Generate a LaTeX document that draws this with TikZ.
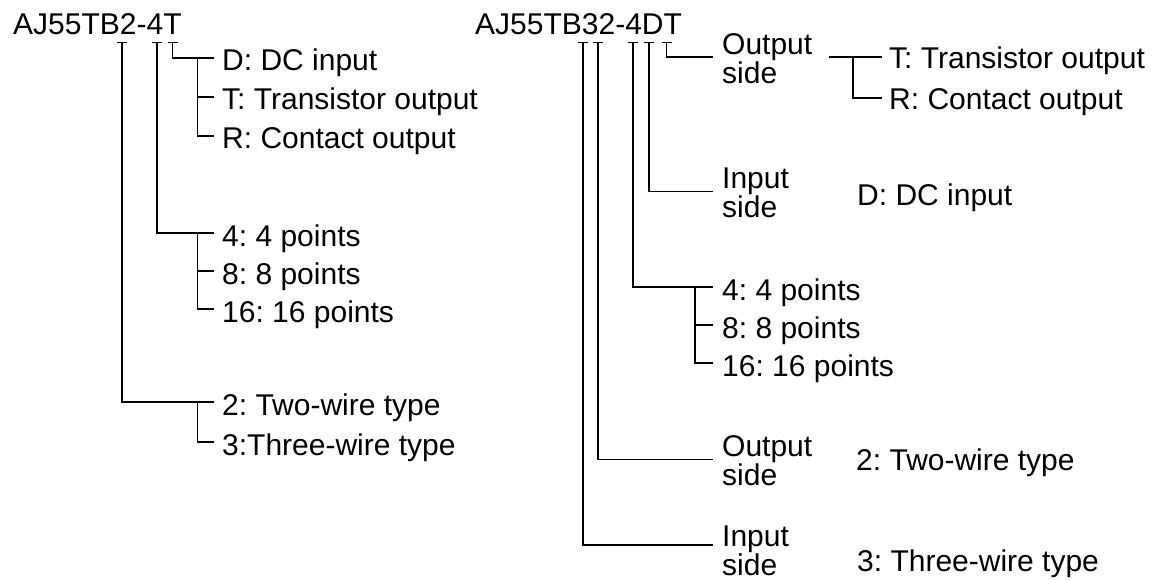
\documentclass[tikz,border=0pt]{standalone}
\usepackage{fontspec}
\setmainfont{Liberation Sans}
\frenchspacing
\begin{document}
\begin{tikzpicture}[x=1pt,y=-1pt,
  lbl/.style={inner sep=0pt, anchor=base west, font=\fontsize{30}{30}\selectfont\frenchspacing},
  two/.style={inner sep=0pt, anchor=west, align=left, font=\fontsize{30}{24}\selectfont},
  ln/.style={line width=1.1pt, black},
  tick/.style={line width=1.1pt, black}]
\useasboundingbox (0,0) rectangle (1156,580);
% ---------------- left code ----------------
\node[lbl] (tl) at (13,35) {AJ55TB2-4T};
\coordinate (a1) at (122,42.5);
\coordinate (a2) at (157,42.5);
\coordinate (a3) at (172.5,42.5);
\foreach \c in {a1,a2,a3} \draw[tick] ([xshift=-5pt]\c) -- ([xshift=5pt]\c);

\node[lbl] (lD) at (222,71)  {D: DC input};
\node[lbl] (lT) at (222,110) {T: Transistor output};
\node[lbl] (lR) at (222,149) {R: Contact output};
\coordinate (sD) at (214,58);
\coordinate (sT) at (214,97);
\coordinate (sR) at (214,136);
\coordinate (jA) at (197.5,58);
\draw[ln] (a3) |- (sD);
\draw[ln] (jA) |- (sR);
\draw[ln] (jA |- sT) -- (sT);

\node[lbl] (l4)  at (222,246) {4: 4 points};
\node[lbl] (l8)  at (222,284) {8: 8 points};
\node[lbl] (l16) at (222,322) {16: 16 points};
\coordinate (s4) at (214,233);
\coordinate (s8) at (214,271);
\coordinate (s16) at (214,309);
\coordinate (jB) at (197.5,233);
\draw[ln] (a2) |- (s4);
\draw[ln] (jB) |- (s16);
\draw[ln] (jB |- s8) -- (s8);

\node[lbl] (l2) at (222,415) {2: Two-wire type};
\node[lbl] (l3) at (222,455) {3:Three-wire type};
\coordinate (s2) at (214,402);
\coordinate (s3) at (214,442);
\coordinate (jC) at (197.5,402);
\draw[ln] (a1) |- (s2);
\draw[ln] (jC) |- (s3);

% ---------------- right code ----------------
\node[lbl] (tr) at (475,35) {AJ55TB32-4DT};
\coordinate (b1) at (583,42.5);
\coordinate (b2) at (598,42.5);
\coordinate (b3) at (633,42.5);
\coordinate (b4) at (649,42.5);
\coordinate (b5) at (666.5,42.5);
\foreach \c in {b1,b2,b3,b4,b5} \draw[tick] ([xshift=-5pt]\c) -- ([xshift=5pt]\c);

% output side (T/R)
\node[two] (os1) at (722,58.5) {Output\\side};
\coordinate (u1) at (713,57);
\draw[ln] (b5) |- (u1);
\node[lbl] (rT) at (889,69)  {T: Transistor output};
\node[lbl] (rR) at (889,110) {R: Contact output};
\coordinate (c1) at (829,57);
\coordinate (sRT) at (882,57);
\coordinate (sRR) at (882,98);
\coordinate (jD) at (853,57);
\draw[ln] (c1) -- (sRT);
\draw[ln] (jD) |- (sRR);

% input side (D)
\node[two] (is1) at (722,193) {Input\\side};
\coordinate (u2) at (713,191.5);
\draw[ln] (b4) |- (u2);
\node[lbl] (rD) at (857,205) {D: DC input};

% points
\node[lbl] (r4)  at (722,300) {4: 4 points};
\node[lbl] (r8)  at (722,338) {8: 8 points};
\node[lbl] (r16) at (722,376) {16: 16 points};
\coordinate (t4) at (713,287);
\coordinate (t8) at (713,325);
\coordinate (t16) at (713,363);
\coordinate (jE) at (695,287);
\draw[ln] (b3) |- (t4);
\draw[ln] (jE) |- (t16);
\draw[ln] (jE |- t8) -- (t8);

% wire type
\node[two] (os2) at (722,461) {Output\\side};
\coordinate (u3) at (713,459.5);
\draw[ln] (b2) |- (u3);
\node[lbl] (r2) at (856,470) {2: Two-wire type};

\node[two] (is2) at (722,551) {Input\\side};
\coordinate (u4) at (713,545);
\draw[ln] (b1) |- (u4);
\node[lbl] (r3) at (857,571) {3: Three-wire type};
\end{tikzpicture}
\end{document}
